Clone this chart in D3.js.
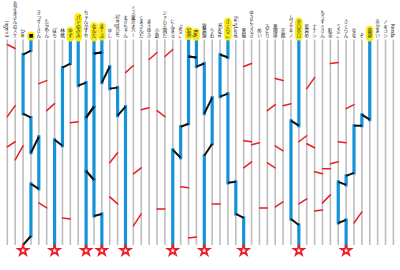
<!DOCTYPE html>
<html>
<head>
<meta charset="utf-8">
<script src="https://cdn.jsdelivr.net/npm/d3@7"></script>
<style>
body { margin: 0; background: #fff; }
svg { display: block; font-family: "Noto Sans CJK JP", "Noto Sans", sans-serif; }
</style>
</head>
<body>
<script>
// one name per vertical line, left to right
var names = ["Ingemit", "あかまきんのスケ", "Zoo", "■", "きっサーさん", "たかやん", "ぽち", "林檎",
  "ゆず", "パンのみみ", "ちゃんかずや", "なんた", "まーぶ", "ゆし", "Spergelbar", "すぎちゃん",
  "ミス東京オバー", "くまさんだ", "まさゆき", "小鉄", "ジャム王国だ", "にんまる", "ぷちこ", "SAKI",
  "Ray", "霧島煌", "りお", "Mikoto", "さくらこ", "FairyLand", "黒猫", "ゆきとうさぎ",
  "めい", "みどり", "黒珈琲", "京都", "ムラサキノ", "ホロホロ", "藍染め", "ナナシ",
  "もうすぐさん", "紅茶", "うさこ", "さくらん", "なな", "ぞ", "黄身", "あかまい",
  "ノキヨシ", "Keeda"];

// highlighted starting lines and the lines that get a star
var picked = [3, 8, 9, 11, 12, 23, 24, 28, 37, 46];
var goals = [2, 6, 10, 12, 15, 21, 25, 30, 37, 43];

// unused rungs: [left line, depth on left line, depth on right line]
var rungs = [
  [0, 45, 49], [4, 84, 81], [0, 117, 106], [5, 111, 104], [8, 123, 122],
  [0, 147, 142], [1, 160, 146], [13, 163, 153], [4, 203, 208], [7, 218, 219],
  [13, 197, 204], [15, 73, 66], [18, 60, 53], [20, 57, 50], [30, 67, 64],
  [17, 110, 108], [19, 111, 117], [16, 174, 168], [16, 226, 214], [33, 111, 105],
  [30, 141, 142], [31, 145, 143], [30, 168, 162], [22, 187, 188], [19, 209, 209],
  [26, 204, 204], [32, 208, 208], [23, 238, 237], [41, 64, 63], [34, 79, 81],
  [38, 89, 78], [35, 106, 104], [43, 109, 105], [34, 146, 151], [37, 142, 136],
  [38, 144, 148], [42, 142, 143], [33, 163, 168], [39, 172, 174], [40, 169, 169],
  [41, 164, 162], [34, 207, 202], [37, 204, 199], [39, 211, 210], [40, 203, 195],
  [44, 223, 212]
];

// followed routes: [line, depth] waypoints
var routes = [
  [[3, 40], [3, 51], [2, 55], [2, 114], [3, 118], [3, 153], [4, 137], [4, 189], [3, 184], [3, 236], [2, 245]],
  [[8, 40], [8, 64], [7, 68], [7, 146], [6, 140], [6, 245]],
  [[9, 40], [9, 86], [10, 83], [10, 118], [11, 107], [11, 180], [10, 171], [10, 245]],
  [[12, 40], [12, 53], [11, 54], [11, 107], [10, 118], [10, 171], [11, 180], [11, 216], [12, 214], [12, 245]],
  [[11, 40], [11, 54], [12, 53], [12, 83], [13, 67], [13, 89], [14, 88], [14, 116], [15, 107], [15, 245]],
  [[23, 40], [23, 57], [24, 58], [24, 67], [25, 64], [25, 114], [26, 98], [26, 144], [25, 156], [25, 245]],
  [[24, 40], [24, 58], [23, 57], [23, 124], [22, 127], [22, 158], [21, 150], [21, 245]],
  [[28, 40], [28, 58], [27, 55], [27, 97], [28, 94], [28, 183], [29, 182], [29, 214], [30, 218], [30, 245]],
  [[37, 40], [37, 126], [36, 121], [36, 219], [37, 225], [37, 245]],
  [[46, 40], [46, 120], [45, 115], [45, 126], [44, 126], [44, 173], [43, 176], [43, 185], [42, 182], [42, 223], [43, 220], [43, 245]]
];

var width = 400,
    height = 270;

var x = d3.scaleLinear().domain([0, names.length - 1]).range([7.3, 393.4]);
var y = d3.scaleLinear().domain([40, 245]).range([39.5, 245]);

var svg = d3.select("body").append("svg")
    .attr("width", width)
    .attr("height", height);

svg.append("rect").attr("width", width).attr("height", height).attr("fill", "#fff");

// posts
svg.append("g").selectAll("line")
    .data(names)
  .enter().append("line")
    .attr("x1", function(d, i) { return x(i); })
    .attr("x2", function(d, i) { return x(i); })
    .attr("y1", y(40))
    .attr("y2", y(245))
    .attr("stroke", "#bdbdbd")
    .attr("stroke-width", 1.6);

// red rungs
svg.append("g").selectAll("line")
    .data(rungs)
  .enter().append("line")
    .attr("x1", function(d) { return x(d[0]); })
    .attr("x2", function(d) { return x(d[0] + 1); })
    .attr("y1", function(d) { return y(d[1]); })
    .attr("y2", function(d) { return y(d[2]); })
    .attr("stroke", "#ec1c24")
    .attr("stroke-width", 1.5)
    .attr("stroke-linecap", "round");

// split routes into vertical runs and crossings
var runs = [], hops = [];
routes.forEach(function(r) {
  for (var k = 1; k < r.length; k++) {
    var seg = [r[k - 1], r[k]];
    if (r[k - 1][0] === r[k][0]) runs.push(seg); else hops.push(seg);
  }
});

svg.append("g").selectAll("line")
    .data(runs)
  .enter().append("line")
    .attr("x1", function(d) { return x(d[0][0]); })
    .attr("x2", function(d) { return x(d[1][0]); })
    .attr("y1", function(d) { return y(d[0][1]); })
    .attr("y2", function(d) { return y(d[1][1]); })
    .attr("stroke", "#1592d8")
    .attr("stroke-width", 3.2)
    .attr("stroke-linecap", "square");

svg.append("g").selectAll("line")
    .data(hops)
  .enter().append("line")
    .attr("x1", function(d) { return x(d[0][0]); })
    .attr("x2", function(d) { return x(d[1][0]); })
    .attr("y1", function(d) { return y(d[0][1]); })
    .attr("y2", function(d) { return y(d[1][1]); })
    .attr("stroke", "#111")
    .attr("stroke-width", 2);

// names, written top to bottom, ending just above the posts
var label = svg.append("g").selectAll("g")
    .data(names)
  .enter().append("g");

label.append("text")
    .attr("x", function(d, i) { return x(i); })
    .attr("y", 37.5)
    .attr("text-anchor", "end")
    .style("writing-mode", "vertical-rl")
    .attr("font-size", 4.6)
    .attr("fill", "#111")
    .text(function(d) { return d; });

label.filter(function(d, i) { return picked.indexOf(i) >= 0; })
  .insert("rect", "text")
    .each(function() {
      var b = this.parentNode.querySelector("text").getBBox();
      d3.select(this)
          .attr("x", b.x + b.width / 2 - 3.7)
          .attr("y", b.y - 1.5)
          .attr("width", 7.4)
          .attr("height", b.height + 4)
          .attr("rx", 3.7);
    })
    .attr("fill", "#f8ea14");

// stars under the goal lines
svg.append("g").selectAll("path")
    .data(goals)
  .enter().append("path")
    .attr("transform", function(d) { return "translate(" + x(d) + ",250.5)"; })
    .attr("d", d3.symbol().type(d3.symbolStar).size(32))
    .attr("fill", "none")
    .attr("stroke", "#ec1c24")
    .attr("stroke-width", 1.7);
</script>
</body>
</html>
